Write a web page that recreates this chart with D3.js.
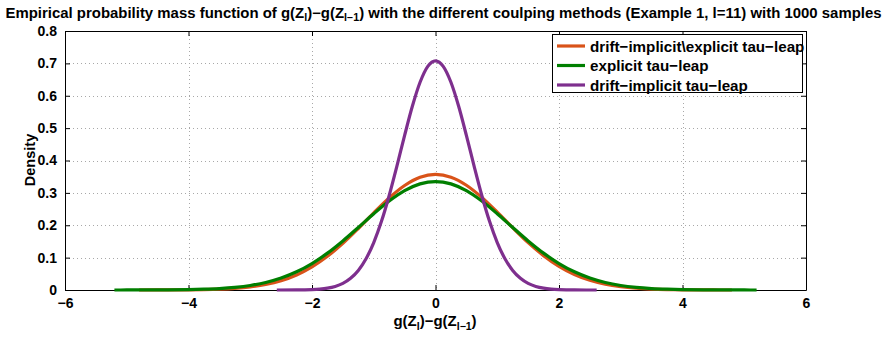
<!DOCTYPE html>
<html>
<head>
<meta charset="utf-8">
<style>
  body { margin: 0; background: #fff; }
  text { font-family: "Liberation Sans", Arial, sans-serif; font-weight: bold; }
</style>
</head>
<body>
<svg id="chart" width="887" height="337"></svg>
<script src="https://cdn.jsdelivr.net/npm/d3@7"></script>
<script>
// values
let xTicks = [-6, -4, -2, 0, 2, 4, 6]
let yTicks = [0, 0.1, 0.2, 0.3, 0.4, 0.5, 0.6, 0.7, 0.8]

let seriesNames = ["drift\u2212implicit\\explicit tau\u2212leap", "explicit tau\u2212leap", "drift\u2212implicit tau\u2212leap"]
let seriesColors = ["#D95319", "#007F00", "#7E2F8E"]

let orangeX = [-4.8, -4.5, -4, -3.75, -3.5, -3.25, -3, -2.75, -2.5, -2.25, -2, -1.75, -1.5, -1.25, -1, -0.75, -0.5, -0.25, 0,
  0.25, 0.5, 0.75, 1, 1.25, 1.5, 1.75, 2, 2.25, 2.5, 2.75, 3, 3.25, 3.5, 3.75, 4, 4.5, 4.8]
let orangeY = [0, 0.0001, 0.0006, 0.0013, 0.0027, 0.0052, 0.0096, 0.0170, 0.0288, 0.0465, 0.0714, 0.1040, 0.1441, 0.1900, 0.2385, 0.2845, 0.3228, 0.3482, 0.357,
  0.3484, 0.3236, 0.2860, 0.2405, 0.1925, 0.1465, 0.1062, 0.0732, 0.0480, 0.0300, 0.0178, 0.0101, 0.0054, 0.0028, 0.0014, 0.0006, 0.0001, 0]

let greenX = [-5.2, -5, -4.5, -4, -3.75, -3.5, -3.25, -3, -2.75, -2.5, -2.25, -2, -1.75, -1.5, -1.25, -1, -0.75, -0.5, -0.25, 0,
  0.25, 0.5, 0.75, 1, 1.25, 1.5, 1.75, 2, 2.25, 2.5, 2.75, 3, 3.25, 3.5, 3.75, 4, 4.5, 5, 5.2]
let greenY = [0, 0.0001, 0.0003, 0.0012, 0.0024, 0.0045, 0.0081, 0.0140, 0.0233, 0.0370, 0.0562, 0.0818, 0.1138, 0.1516, 0.1931, 0.2355, 0.2747, 0.3067, 0.3277, 0.335,
  0.3277, 0.3067, 0.2747, 0.2355, 0.1931, 0.1516, 0.1138, 0.0818, 0.0562, 0.0370, 0.0233, 0.0140, 0.0081, 0.0045, 0.0024, 0.0012, 0.0003, 0.0001, 0]

let purpleX = [-2.57, -2.25, -2, -1.875, -1.75, -1.625, -1.5, -1.375, -1.25, -1.125, -1, -0.875, -0.75, -0.625, -0.5, -0.375, -0.25, -0.125, 0,
  0.125, 0.25, 0.375, 0.5, 0.625, 0.75, 0.875, 1, 1.125, 1.25, 1.375, 1.5, 1.625, 1.75, 1.875, 2, 2.25, 2.61]
let purpleY = [0, 0.0002, 0.0013, 0.0028, 0.0057, 0.0111, 0.0205, 0.0361, 0.0604, 0.0965, 0.1466, 0.2120, 0.2920, 0.3827, 0.4776, 0.5674, 0.6416, 0.6908, 0.708,
  0.6908, 0.6416, 0.5674, 0.4776, 0.3827, 0.2920, 0.2120, 0.1466, 0.0965, 0.0604, 0.0361, 0.0205, 0.0111, 0.0057, 0.0028, 0.0013, 0.0002, 0]

let svg = d3.select("#chart")
let plotLeft = 65, plotRight = 806, plotTop = 31, plotBottom = 290

let x = d3.scaleLinear().domain([-6, 6]).range([plotLeft, plotRight])
let y = d3.scaleLinear().domain([0, 0.8]).range([plotBottom, plotTop])

// dotted grid
let grid = svg.append("g").attr("stroke", "#a8a8a8").attr("stroke-width", 1).attr("stroke-dasharray", "1,3")
grid.selectAll(".gx").data(xTicks.slice(1, -1)).enter().append("line")
  .attr("x1", d => Math.round(x(d)) + 0.5).attr("x2", d => Math.round(x(d)) + 0.5)
  .attr("y1", plotTop).attr("y2", plotBottom)
grid.selectAll(".gy").data(yTicks.slice(1, -1)).enter().append("line")
  .attr("x1", plotLeft).attr("x2", plotRight)
  .attr("y1", d => Math.round(y(d)) + 0.5).attr("y2", d => Math.round(y(d)) + 0.5)

// axes, ticks inward on all four sides
let bottomAxis = d3.axisBottom(x).tickValues(xTicks).tickSizeInner(-5).tickSizeOuter(0).tickPadding(8).tickFormat(d => d < 0 ? "\u2212" + Math.abs(d) : d)
let leftAxis = d3.axisLeft(y).tickValues(yTicks).tickSizeInner(-5).tickSizeOuter(0).tickPadding(8).tickFormat(d => d === 0 ? "0" : d3.format(".1f")(d))

svg.append("g").attr("transform", `translate(0,${plotBottom})`).call(bottomAxis)
svg.append("g").attr("transform", `translate(${plotLeft},0)`).call(leftAxis)
svg.append("g").attr("transform", `translate(0,${plotTop})`)
  .call(d3.axisTop(x).tickValues(xTicks).tickSizeInner(-5).tickSizeOuter(0).tickFormat(""))
svg.append("g").attr("transform", `translate(${plotRight},0)`)
  .call(d3.axisRight(y).tickValues(yTicks).tickSizeInner(-5).tickSizeOuter(0).tickFormat(""))

svg.selectAll(".tick text").attr("font-size", 14).attr("fill", "#000")
svg.selectAll(".domain, .tick line").attr("stroke", "#000")

// curves
let line = d3.line().x(d => x(d[0])).y(d => y(d[1])).curve(d3.curveMonotoneX)
let series = [
  d3.zip(orangeX, orangeY),
  d3.zip(greenX, greenY),
  d3.zip(purpleX, purpleY)
]
svg.selectAll(".curve").data(series).enter().append("path")
  .attr("d", d => line(d))
  .attr("fill", "none")
  .attr("stroke", (d, i) => seriesColors[i])
  .attr("stroke-width", 3.2)
  .attr("stroke-linejoin", "round")

// title and axis labels
let title = svg.append("text").attr("x", 0).attr("y", 0).attr("text-anchor", "middle").attr("font-size", 14)
title.append("tspan").text("Empirical probability mass function of g(Z")
title.append("tspan").attr("font-size", 10).attr("dy", 3).text("l")
title.append("tspan").attr("dy", -3).text(")\u2212g(Z")
title.append("tspan").attr("font-size", 10).attr("dy", 3).text("l\u22121")
title.append("tspan").attr("dy", -3).text(") with the different coulping methods (Example 1, l=11) with 1000 samples")
// stretch the title to the width it takes in the reference
let tw = title.node().getBBox().width
title.attr("transform", `translate(443.5,18) scale(${877 / tw},1)`)

let xlab = svg.append("text").attr("x", 435).attr("y", 326).attr("text-anchor", "middle").attr("font-size", 15)
xlab.append("tspan").text("g(Z")
xlab.append("tspan").attr("font-size", 10.5).attr("dy", 4).text("l")
xlab.append("tspan").attr("dy", -4).text(")\u2212g(Z")
xlab.append("tspan").attr("font-size", 10.5).attr("dy", 4).text("l\u22121")
xlab.append("tspan").attr("dy", -4).text(")")

svg.append("text").attr("transform", "translate(35,160) rotate(-90)")
  .attr("text-anchor", "middle").attr("font-size", 14.5).text("Density")

// legend
let legend = svg.append("g")
legend.append("rect").attr("x", 552.5).attr("y", 34.5).attr("width", 250).attr("height", 58)
  .attr("fill", "#fff").attr("stroke", "#000")
let rows = legend.selectAll(".row").data(seriesNames).enter().append("g")
  .attr("transform", (d, i) => `translate(0,${46 + i * 19.5})`)
rows.append("line").attr("x1", 557).attr("x2", 585).attr("y1", 0).attr("y2", 0)
  .attr("stroke", (d, i) => seriesColors[i]).attr("stroke-width", 3.2)
rows.append("text").attr("x", 590).attr("y", 5.5).attr("font-size", 15.2).text(d => d)
</script>
</body>
</html>
